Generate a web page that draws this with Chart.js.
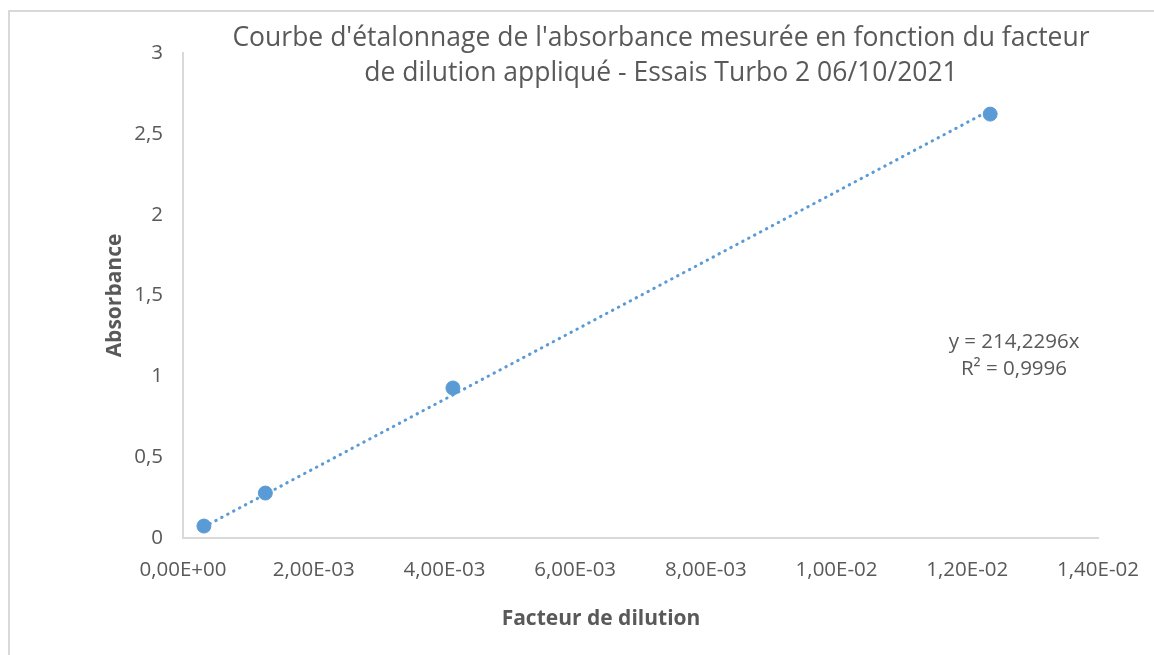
<!DOCTYPE html>
<html>
<head>
<meta charset="utf-8">
<script src="https://cdn.jsdelivr.net/npm/chart.js@4.4.1/dist/chart.umd.min.js"></script>
<style>
  html, body { margin: 0; padding: 0; background: #ffffff; }
  #wrap { position: relative; width: 1154px; height: 655px; }
  canvas { display: block; }
</style>
</head>
<body>
<div id="wrap"><canvas id="c" width="1154" height="655"></canvas></div>
<script>
// ---- Data ----
const dilutionFactors = [0.00032, 0.00126, 0.00413, 0.01235];
const absorbances = [0.074, 0.278, 0.928, 2.622];
const trendX = [0.00032, 0.01235];
const trendY = [0.069, 2.646];
const titleLines = ["Courbe d'étalonnage de l'absorbance mesurée en fonction du facteur", "de dilution appliqué - Essais Turbo 2 06/10/2021"];
const xAxisTitle = "Facteur de dilution";
const yAxisTitle = "Absorbance";
const equationLines = ["y = 214,2296x", "R² = 0,9996"];
const xRange = [0, 0.014, 0.002];
const yRange = [0, 3, 0.5];

const FONT = "'Open Sans', sans-serif";
const GRAY = '#595959';
const BLUE = '#5b9bd5';

function sciLabel(v) {
  if (Math.abs(v) < 1e-12) return '0,00E+00';
  let e = Math.floor(Math.log10(Math.abs(v)) + 1e-9);
  let m = v / Math.pow(10, e);
  let ms = m.toFixed(2).replace('.', ',');
  let es = (e < 0 ? '-' : '+') + String(Math.abs(e)).padStart(2, '0');
  return ms + 'E' + es;
}

const decorPlugin = {
  id: 'decor',
  beforeDraw(chart) {
    const ctx = chart.ctx;
    ctx.save();
    ctx.strokeStyle = '#d9d9d9';
    ctx.lineWidth = 2;
    ctx.beginPath();
    ctx.moveTo(9, 660);
    ctx.lineTo(9, 11);
    ctx.lineTo(1160, 11);
    ctx.stroke();
    ctx.restore();
  },
  afterDraw(chart) {
    const ctx = chart.ctx;
    const a = chart.chartArea;
    ctx.save();
    ctx.fillStyle = GRAY;
    ctx.textAlign = 'center';
    ctx.textBaseline = 'alphabetic';
    // title
    ctx.font = "26.5px " + FONT;
    ctx.fillText(titleLines[0], 661, 46);
    ctx.fillText(titleLines[1], 661, 81);
    // axis titles
    ctx.font = "bold 21px " + FONT;
    ctx.fillText(xAxisTitle, 601, 625);
    ctx.save();
    ctx.translate(121, (a.top + a.bottom) / 2);
    ctx.rotate(-Math.PI / 2);
    ctx.fillText(yAxisTitle, 0, 0);
    ctx.restore();
    // equation
    ctx.font = "20.5px " + FONT;
    ctx.fillText(equationLines[0], 1014, 348);
    ctx.fillText(equationLines[1], 1014, 375);
    ctx.restore();
  }
};

new Chart(document.getElementById('c'), {
  type: 'scatter',
  data: {
    datasets: [
      {
        label: 'Trend',
        data: trendX.map((x, i) => ({ x: x, y: trendY[i] })),
        showLine: true,
        borderColor: BLUE,
        borderWidth: 3,
        borderDash: [0.5, 6.2],
        borderCapStyle: 'round',
        pointRadius: 0,
        pointHoverRadius: 0,
        fill: false,
        order: 2
      },
      {
        label: 'Absorbance',
        data: dilutionFactors.map((x, i) => ({ x: x, y: absorbances[i] })),
        backgroundColor: BLUE,
        borderColor: BLUE,
        pointRadius: 7,
        pointBorderWidth: 1,
        order: 1
      }
    ]
  },
  options: {
    responsive: false,
    animation: false,
    devicePixelRatio: 1,
    layout: { padding: { left: 0, top: 53, right: 56, bottom: 0 } },
    plugins: {
      legend: { display: false },
      title: { display: false },
      tooltip: { enabled: false }
    },
    scales: {
      x: {
        type: 'linear',
        min: xRange[0], max: xRange[1],
        afterFit(scale) { scale.height = 117; scale.paddingLeft = 0; scale.paddingRight = 0; },
        grid: { display: true, color: 'rgba(0,0,0,0)', drawTicks: false },
        border: { display: true, color: '#d9d9d9', width: 2 },
        ticks: {
          stepSize: xRange[2],
          padding: 20,
          color: GRAY,
          font: { family: FONT, size: 20.5 },
          callback: (v) => sciLabel(v)
        }
      },
      y: {
        type: 'linear',
        min: yRange[0], max: yRange[1],
        afterFit(scale) { scale.width = 183; scale.paddingTop = 0; scale.paddingBottom = 0; },
        grid: { display: true, color: 'rgba(0,0,0,0)', drawTicks: false },
        border: { display: true, color: '#d9d9d9', width: 2 },
        ticks: {
          stepSize: yRange[2],
          padding: 20,
          color: GRAY,
          font: { family: FONT, size: 20.5 },
          callback: (v) => String(Math.round(v * 10) / 10).replace('.', ',')
        }
      }
    }
  },
  plugins: [decorPlugin]
});
</script>
</body>
</html>
